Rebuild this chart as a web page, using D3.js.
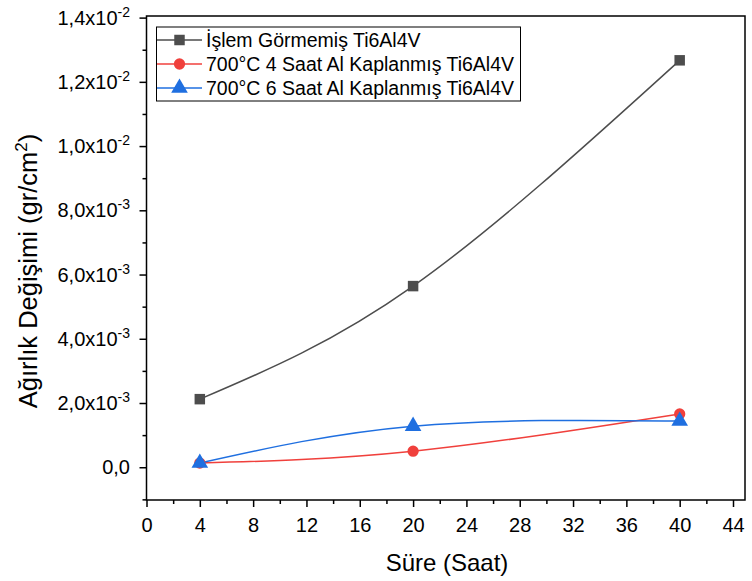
<!DOCTYPE html>
<html>
<head>
<meta charset="utf-8">
<script src="https://cdn.jsdelivr.net/npm/d3@7"></script>
<style>
  body { margin: 0; background: #fff; }
  text { font-family: Arial, "Liberation Sans", sans-serif; fill: #000; }
</style>
</head>
<body>
<svg id="chart" width="752" height="581"></svg>
<script>
// values
const hours = [4, 20, 40];
const untreated = [2.12e-3, 5.64e-3, 12.67e-3];
const coated4h = [0.13e-3, 0.50e-3, 1.66e-3];
const coated6h = [0.13e-3, 1.28e-3, 1.44e-3];
const seriesNames = [
    "İşlem Görmemiş Ti6Al4V",
    "700°C 4 Saat Al Kaplanmış Ti6Al4V",
    "700°C 6 Saat Al Kaplanmış Ti6Al4V"
];
const xTicks = [0, 4, 8, 12, 16, 20, 24, 28, 32, 36, 40, 44];
const yTicks = [0, 2e-3, 4e-3, 6e-3, 8e-3, 10e-3, 12e-3, 14e-3];
const yTickLabels = [
    ["0,0", ""], ["2,0x10", "-3"], ["4,0x10", "-3"], ["6,0x10", "-3"],
    ["8,0x10", "-3"], ["1,0x10", "-2"], ["1,2x10", "-2"], ["1,4x10", "-2"]
];

const colors = ["#4d4d4d", "#f0403c", "#1f6fe0"];
const symbols = [d3.symbolSquare, d3.symbolCircle, d3.symbolTriangle];
const symbolSizes = [110, 100, 120];

const svg = d3.select("#chart");
const m = { left: 146.5, right: 745, top: 16, bottom: 500 };

const x = d3.scaleLinear().domain([0, 44.9]).range([m.left, m.right]);
const y = d3.scaleLinear().domain([-1.02e-3, 14.05e-3]).range([m.bottom, m.top]);

const allSeries = [untreated, coated4h, coated6h].map((vals, i) => ({
    name: seriesNames[i],
    color: colors[i],
    symbol: symbols[i],
    size: symbolSizes[i],
    points: hours.map((h, j) => ({ h, v: vals[j] }))
}));

// frame
svg.append("rect")
    .attr("x", m.left).attr("y", m.top)
    .attr("width", m.right - m.left).attr("height", m.bottom - m.top)
    .attr("fill", "none").attr("stroke", "#000").attr("stroke-width", 1.5);

// minor ticks
const xMinor = d3.range(2, 45, 4);
const yMinor = [-1e-3, 1e-3, 3e-3, 5e-3, 7e-3, 9e-3, 11e-3, 13e-3];

const xAxis = d3.axisBottom(x).tickValues(xTicks).tickSize(7).tickFormat(d3.format("d"));
const gx = svg.append("g").attr("transform", `translate(0,${m.bottom})`).call(xAxis);
gx.select(".domain").remove();
gx.selectAll(".tick line").attr("stroke-width", 1.5);
gx.selectAll(".tick text").attr("dy", null).attr("y", 32).style("font-size", "20px");

const gxm = svg.append("g").attr("transform", `translate(0,${m.bottom})`)
    .call(d3.axisBottom(x).tickValues(xMinor).tickSize(4).tickFormat(""));
gxm.select(".domain").remove();
gxm.selectAll(".tick line").attr("stroke-width", 1.5);

const yAxis = d3.axisLeft(y).tickValues(yTicks).tickSize(7).tickFormat("");
const gy = svg.append("g").attr("transform", `translate(${m.left},0)`).call(yAxis);
gy.select(".domain").remove();
gy.selectAll(".tick line").attr("stroke-width", 1.5);

const gym = svg.append("g").attr("transform", `translate(${m.left},0)`)
    .call(d3.axisLeft(y).tickValues(yMinor).tickSize(4).tickFormat(""));
gym.select(".domain").remove();
gym.selectAll(".tick line").attr("stroke-width", 1.5);

// y tick labels with superscript exponents
yTicks.forEach((t, i) => {
    const [base, exp] = yTickLabels[i];
    const txt = svg.append("text")
        .attr("x", 130).attr("y", y(t) + 7)
        .attr("text-anchor", "end")
        .style("font-size", "20px");
    txt.append("tspan").text(base);
    if (exp) {
        txt.append("tspan").attr("dy", -8).style("font-size", "14px").text(exp);
    }
});

// axis titles
svg.append("text")
    .attr("x", 447).attr("y", 571)
    .attr("text-anchor", "middle")
    .style("font-size", "24px")
    .text("Süre (Saat)");

const yt = svg.append("text")
    .attr("transform", "translate(37,271) rotate(-90)")
    .attr("text-anchor", "middle")
    .style("font-size", "25.5px");
yt.append("tspan").text("Ağırlık Değişimi (gr/cm");
yt.append("tspan").attr("dy", -10).style("font-size", "17px").text("2");
yt.append("tspan").attr("dy", 10).text(")");

// curves
const line = d3.line()
    .x(d => x(d.h))
    .y(d => y(d.v))
    .curve(d3.curveNatural);

allSeries.forEach(s => {
    svg.append("path")
        .datum(s.points)
        .attr("d", line)
        .attr("fill", "none")
        .attr("stroke", s.color)
        .attr("stroke-width", 1.5);
});

allSeries.forEach(s => {
    svg.selectAll(null)
        .data(s.points)
        .join("path")
        .attr("transform", d => `translate(${x(d.h)},${y(d.v)})`)
        .attr("d", d3.symbol().type(s.symbol).size(s.size))
        .attr("fill", s.color);
});

// legend
const legend = svg.append("g");
legend.append("rect")
    .attr("x", 156.5).attr("y", 27)
    .attr("width", 364).attr("height", 74)
    .attr("fill", "#fff").attr("stroke", "#000").attr("stroke-width", 1);

allSeries.forEach((s, i) => {
    const ly = 40 + i * 24;
    legend.append("line")
        .attr("x1", 157).attr("x2", 202)
        .attr("y1", ly).attr("y2", ly)
        .attr("stroke", s.color).attr("stroke-width", 1.5);
    legend.append("path")
        .attr("transform", `translate(179.5,${ly})`)
        .attr("d", d3.symbol().type(s.symbol).size(s.size))
        .attr("fill", s.color);
    legend.append("text")
        .attr("x", 206).attr("y", ly + 7)
        .style("font-size", "19.5px")
        .text(s.name);
});
</script>
</body>
</html>
